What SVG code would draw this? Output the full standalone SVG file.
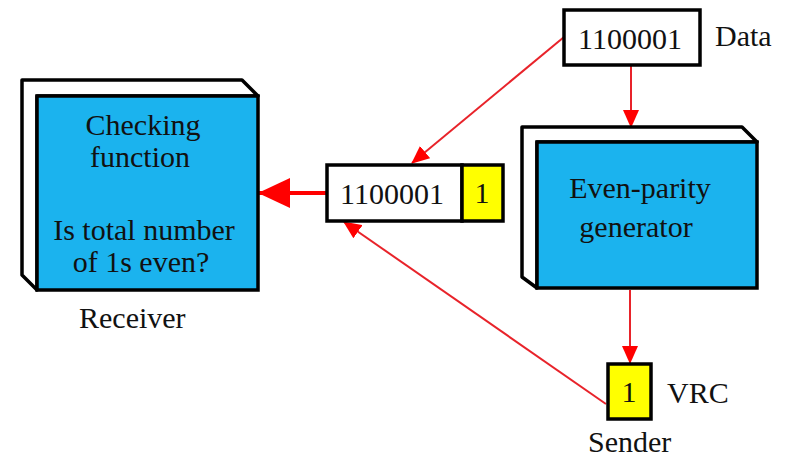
<svg xmlns="http://www.w3.org/2000/svg" width="789" height="458" viewBox="0 0 789 458">
<style>
.t{font-family:'Liberation Serif','DejaVu Serif','Times New Roman',serif;font-size:30px;fill:#111}
.c{text-anchor:middle}
.face{fill:#1BB3EE;stroke:#000;stroke-width:3.5}
.side{fill:#fff;stroke:#000;stroke-width:3.5;stroke-linejoin:round}
.box{fill:#fff;stroke:#000;stroke-width:3.5}
.yel{fill:#FFFF00;stroke:#000;stroke-width:3.5}
.ln{stroke:#E8232A;stroke-width:2;fill:none}
</style>
<defs>
<marker id="ah" markerWidth="18" markerHeight="16" refX="17" refY="8" orient="auto" markerUnits="userSpaceOnUse">
<path d="M0,0 L18,8 L0,16 Z" fill="#FF0000"/>
</marker>
<marker id="bh" markerWidth="32" markerHeight="30" refX="31" refY="15" orient="auto" markerUnits="userSpaceOnUse">
<path d="M0,0 L32,15 L0,30 Z" fill="#FF0000"/>
</marker>
</defs>
<g id="connectors">
<line class="ln" x1="631" y1="65" x2="631" y2="127" marker-end="url(#ah)"/>
<line class="ln" x1="630" y1="290" x2="630" y2="363" marker-end="url(#ah)"/>
<line class="ln" x1="564" y1="37" x2="412" y2="163" marker-end="url(#ah)"/>
<line class="ln" x1="606" y1="404" x2="344" y2="222" marker-end="url(#ah)"/>
<line x1="326" y1="193" x2="259" y2="193" stroke="#FF0000" stroke-width="4" marker-end="url(#bh)"/>
</g>
<g id="receiver">
<path class="side" d="M22,80 L242,80 L258,96 L37,96 L37,290 L22,275 Z"/>
<rect class="face" x="37" y="96" width="221" height="194"/>
<text class="t c" x="143" y="135">Checking</text>
<text class="t c" x="140" y="167">function</text>
<text class="t c" x="144" y="240">Is total number</text>
<text class="t c" x="141" y="272">of 1s even?</text>
<text class="t" x="79" y="328">Receiver</text>
</g>
<g id="generator">
<path class="side" d="M522,127 L742,127 L757,142 L537,142 L537,288 L522,277 Z"/>
<rect class="face" x="537" y="142" width="220" height="146"/>
<text class="t c" x="640" y="198">Even-parity</text>
<text class="t c" x="636" y="237">generator</text>
</g>
<g id="codeword">
<rect class="box" x="327" y="165" width="135" height="56"/>
<rect class="yel" x="462" y="165" width="41" height="56"/>
<text class="t c" x="392" y="204">1100001</text>
<text class="t c" x="482" y="203">1</text>
</g>
<g id="data">
<rect class="box" x="564" y="10" width="136" height="55"/>
<text class="t c" x="630" y="49">1100001</text>
<text class="t" x="715" y="46">Data</text>
</g>
<g id="vrc">
<rect class="yel" x="608" y="364" width="43" height="55"/>
<text class="t c" x="629" y="402">1</text>
<text class="t" x="667" y="403">VRC</text>
<text class="t" x="588" y="452">Sender</text>
</g>
</svg>
